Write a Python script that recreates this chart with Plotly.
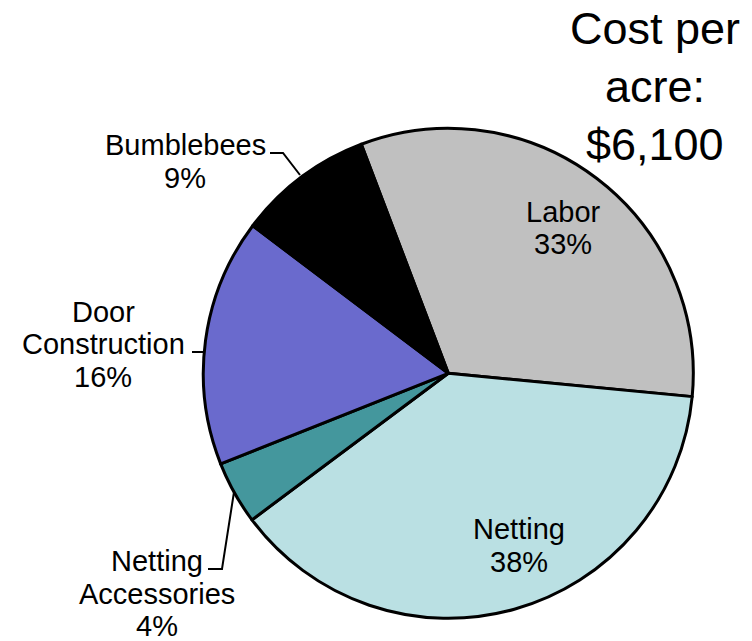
import plotly.graph_objects as go

# ---- data ----
categories = ["Labor", "Netting", "Netting Accessories", "Door Construction", "Bumblebees"]
cost_dollars = [1970, 2335, 255, 995, 545]          # (total $6,100)
pct_labels = ["33%", "38%", "4%", "16%", "9%"]      # percentages as printed on the chart
label_lines = [["Labor"], ["Netting"], ["Netting", "Accessories"], ["Door", "Construction"], ["Bumblebees"]]
colors = ["#C0C0C0", "#BAE0E3", "#44979D", "#6A6ACD", "#000000"]
title_lines = ["Cost per", "acre:", "$6,100"]

W, H = 752, 641
def px(x): return x / W
def py(y): return 1 - y / H

# pie geometry (pixels)
cx, cy, R = 448.3, 373.3, 245

fig = go.Figure(go.Pie(
    labels=categories, values=cost_dollars, sort=False, direction="clockwise",
    rotation=-20.8, textinfo="none", hoverinfo="label+percent",
    marker=dict(colors=colors, line=dict(color="#000000", width=3)),
    domain=dict(x=[px(cx - R), px(cx + R)], y=[py(cy + R), py(cy - R)]),
    showlegend=False,
))

# label block layout: (center x, first line center y) in pixels
label_pos = {
    "Labor": (563, 212),
    "Netting": (519, 529),
    "Netting Accessories": (157, 561),
    "Door Construction": (103, 312),
    "Bumblebees": (185, 145),
}
LINE = 32.5
FS = 29
annotations = []
for cat, lines, pct in zip(categories, label_lines, pct_labels):
    x0, y0 = label_pos[cat]
    for i, t in enumerate(lines + [pct]):
        annotations.append(dict(
            x=px(x0), y=py(y0 + i * LINE), xref="paper", yref="paper",
            text=t, showarrow=False, xanchor="center", yanchor="middle",
            font=dict(family="Liberation Sans, Arial", size=FS, color="#000000"),
        ))

for i, t in enumerate(title_lines):
    annotations.append(dict(
        x=px(655), y=py(29 + i * 58), xref="paper", yref="paper",
        text=t, showarrow=False, xanchor="center", yanchor="middle",
        font=dict(family="Liberation Sans, Arial", size=45, color="#000000"),
    ))

# leader lines (pixels)
leaders = [
    [(270, 153), (283, 153), (300, 175)],
    [(192, 352), (203, 352)],
    [(208, 569), (222, 569), (234, 492)],
]
shapes = []
for pts in leaders:
    path = "M " + " L ".join(f"{px(x)},{py(y)}" for x, y in pts)
    shapes.append(dict(type="path", path=path, xref="paper", yref="paper",
                       line=dict(color="#000000", width=2)))

fig.update_layout(
    width=W, height=H, margin=dict(l=0, r=0, t=0, b=0),
    paper_bgcolor="#FFFFFF", plot_bgcolor="#FFFFFF",
    annotations=annotations, shapes=shapes,
)
fig.write_html("out.html")
